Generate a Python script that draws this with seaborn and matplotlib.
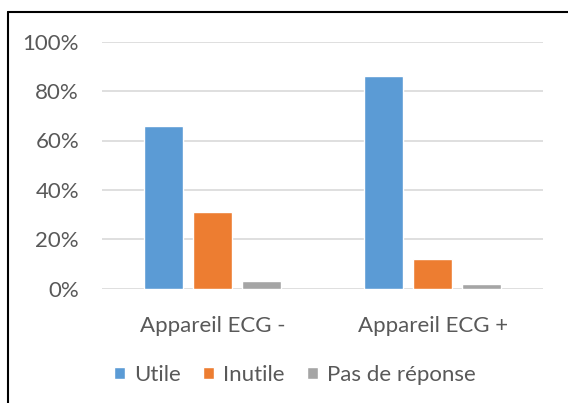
import pandas as pd
import matplotlib.pyplot as plt
import seaborn as sns
from matplotlib.lines import Line2D
from matplotlib.ticker import PercentFormatter

# --- Data ---
categories = ['Appareil ECG -', 'Appareil ECG +']
answers = ['Utile', 'Inutile', 'Pas de réponse']
utile = [0.66, 0.86]
inutile = [0.31, 0.12]
pas_de_reponse = [0.03, 0.02]

colors = ['#5B9BD5', '#ED7D31', '#A5A5A5']
text_color = '#595959'

rows = []
for i, cat in enumerate(categories):
    for ans, vals in zip(answers, [utile, inutile, pas_de_reponse]):
        rows.append({'Appareil': cat, 'Réponse': ans, 'Part': vals[i]})
df = pd.DataFrame(rows)

# --- Plot ---
sns.set_style('white')
plt.rcParams['font.family'] = ['Lato', 'DejaVu Sans']

fig = plt.figure(figsize=(5.68, 4.03), dpi=100)
ax = fig.add_axes([102 / 568, 1 - 288.7 / 403, 441 / 568, 247 / 403])

sns.barplot(data=df, x='Appareil', y='Part', hue='Réponse',
            hue_order=answers, order=categories, palette=colors,
            saturation=1, width=0.665, gap=0.2, ax=ax, legend=True)

ax.set_ylim(0, 1)
ax.set_xlim(-0.5, 1.5)
ax.set_yticks([0, 0.2, 0.4, 0.6, 0.8, 1.0])
ax.yaxis.set_major_formatter(PercentFormatter(1.0, decimals=0))
ax.set_axisbelow(True)
ax.grid(axis='y', color='#D9D9D9', linewidth=1.2)
ax.grid(axis='x', visible=False)
for s in ax.spines.values():
    s.set_visible(False)
ax.set_xlabel('')
ax.set_ylabel('')
ax.tick_params(axis='both', length=0, labelsize=16, colors=text_color)
ax.tick_params(axis='y', pad=16.5)
ax.tick_params(axis='x', pad=19.5)

handles, labels = ax.get_legend_handles_labels()
ax.get_legend().remove()
fig.legend(handles, labels, loc='center', bbox_to_anchor=(295 / 568, 1 - 375 / 403),
           ncol=3, frameon=False, fontsize=16, labelcolor=text_color,
           handlelength=0.5, handleheight=0.5, handletextpad=0.4, columnspacing=1.0)

# chart frame (only top and left edges visible in the reference)
fig.add_artist(Line2D([8 / 568, 1], [1 - 12 / 403, 1 - 12 / 403], color='black', linewidth=1.5))
fig.add_artist(Line2D([8 / 568, 8 / 568], [0, 1 - 12 / 403], color='black', linewidth=1.5))

fig.savefig('out.png', dpi=100)
